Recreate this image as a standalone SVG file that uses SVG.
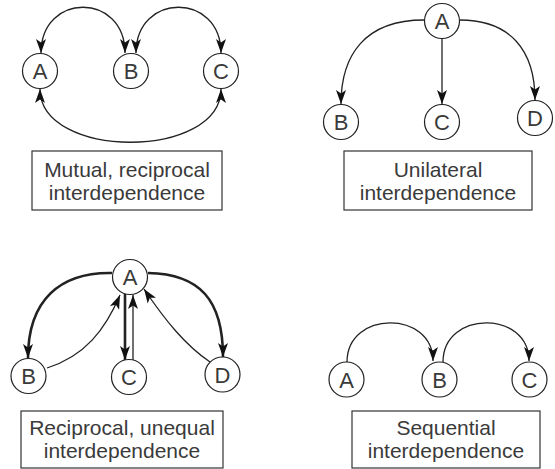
<svg xmlns="http://www.w3.org/2000/svg" width="555" height="469" viewBox="0 0 555 469">
<defs>
<marker id="ah" markerUnits="userSpaceOnUse" markerWidth="15" markerHeight="11" viewBox="0 0 15 11" refX="14" refY="5.5" orient="auto">
<path d="M0,0.5 L14,5.5 L0,10.5 L3.5,5.5 z" fill="#111"/>
</marker>
<marker id="ahs" markerUnits="userSpaceOnUse" markerWidth="15" markerHeight="11" viewBox="0 0 15 11" refX="14" refY="5.5" orient="auto-start-reverse">
<path d="M0,0.5 L14,5.5 L0,10.5 L3.5,5.5 z" fill="#111"/>
</marker>
</defs>
<style>
.n circle{fill:#fff;stroke:#222;stroke-width:1.2}
.n text{font-family:"Liberation Sans",Arial,sans-serif;font-size:22px;fill:#3a3a3a;text-anchor:middle}
.lb rect{fill:#fff;stroke:#333;stroke-width:1.2}
.lb text{font-family:"Liberation Sans",Arial,sans-serif;font-size:21px;fill:#3a3a3a;text-anchor:middle}
.c path,.c line{fill:none;stroke:#222;stroke-width:1.3}
.c .t{stroke-width:2.6}
</style>
<g class="c" id="connectors">
<path d="M41,53 C41,-8 125,-8 125,53" marker-start="url(#ahs)" marker-end="url(#ah)"/>
<path d="M136,53 C136,-8 221,-8 221,53" marker-start="url(#ahs)" marker-end="url(#ah)"/>
<path d="M40,89 C40,160 221,160 221,89" marker-start="url(#ahs)" marker-end="url(#ah)"/>
<path d="M424,20 C365,20 341,55 341,104" marker-end="url(#ah)"/>
<line x1="442" y1="39" x2="442" y2="104" marker-end="url(#ah)"/>
<path d="M460,20 C510,20 535,50 535,100" marker-end="url(#ah)"/>
<path class="t" d="M112,273 C60,272 28,300 28,358" marker-end="url(#ah)"/>
<path d="M47,368 C85,356 105,330 120,295" marker-end="url(#ah)"/>
<line class="t" x1="125" y1="294" x2="125" y2="360" marker-end="url(#ah)"/>
<line x1="133" y1="360" x2="133" y2="295" marker-end="url(#ah)"/>
<path class="t" d="M148,273 C200,274 223,300 223,357" marker-end="url(#ah)"/>
<path d="M210,362 C185,345 165,320 144,289" marker-end="url(#ah)"/>
<path d="M347,362 C347,310 433,310 433,361" marker-end="url(#ah)"/>
<path d="M443,362 C443,310 529,310 529,361" marker-end="url(#ah)"/>
</g>
<g id="tl-A" class="n"><circle cx="40" cy="71" r="17.5"/><text x="40" y="79">A</text></g>
<g id="tl-B" class="n"><circle cx="131" cy="71" r="17.5"/><text x="131" y="79">B</text></g>
<g id="tl-C" class="n"><circle cx="221" cy="71" r="17.5"/><text x="221" y="79">C</text></g>
<g id="tl-label" class="lb"><rect x="32" y="151" width="190" height="59"/><text x="127" y="177">Mutual, reciprocal</text><text x="127" y="200">interdependence</text></g>
<g id="tr-A" class="n"><circle cx="442" cy="21" r="17.5"/><text x="442" y="29">A</text></g>
<g id="tr-B" class="n"><circle cx="341" cy="122" r="17.5"/><text x="341" y="130">B</text></g>
<g id="tr-C" class="n"><circle cx="442" cy="122" r="17.5"/><text x="442" y="130">C</text></g>
<g id="tr-D" class="n"><circle cx="535" cy="118" r="17.5"/><text x="535" y="126">D</text></g>
<g id="tr-label" class="lb"><rect x="344" y="151" width="188" height="59"/><text x="438" y="177">Unilateral</text><text x="438" y="200">interdependence</text></g>
<g id="bl-A" class="n"><circle cx="130" cy="277" r="17.5"/><text x="130" y="285">A</text></g>
<g id="bl-B" class="n"><circle cx="28.5" cy="376" r="17.5"/><text x="28.5" y="384">B</text></g>
<g id="bl-C" class="n"><circle cx="129" cy="377" r="17.5"/><text x="129" y="385">C</text></g>
<g id="bl-D" class="n"><circle cx="222.5" cy="374.5" r="17.5"/><text x="222.5" y="382.5">D</text></g>
<g id="bl-label" class="lb"><rect x="21" y="411" width="202" height="57"/><text x="122" y="435">Reciprocal, unequal</text><text x="122" y="458">interdependence</text></g>
<g id="br-A" class="n"><circle cx="346.5" cy="379.5" r="17.5"/><text x="346.5" y="387.5">A</text></g>
<g id="br-B" class="n"><circle cx="439.5" cy="379.5" r="17.5"/><text x="439.5" y="387.5">B</text></g>
<g id="br-C" class="n"><circle cx="529.5" cy="379.5" r="17.5"/><text x="529.5" y="387.5">C</text></g>
<g id="br-label" class="lb"><rect x="352" y="411" width="188" height="57"/><text x="446" y="435">Sequential</text><text x="446" y="458">interdependence</text></g>
</svg>
